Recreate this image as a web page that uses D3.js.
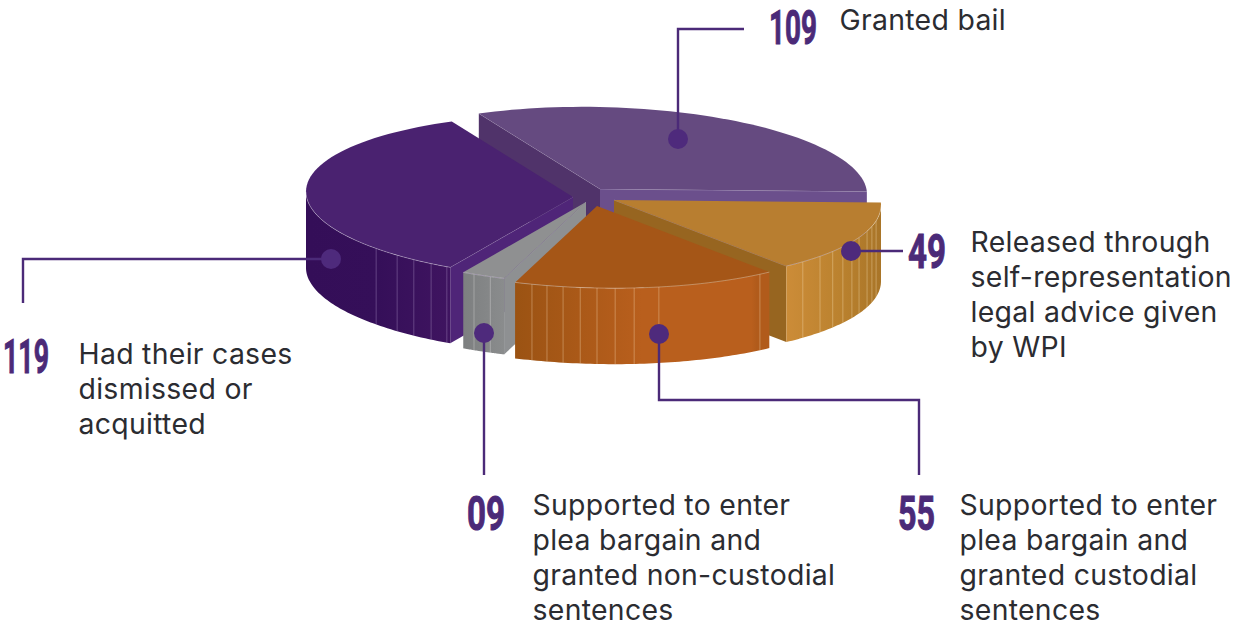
<!DOCTYPE html>
<html>
<head>
<meta charset="utf-8">
<style>
  html, body { margin: 0; padding: 0; background: #fff; }
  svg { display: block; }
  .desc { font-family: Inter, "Noto Sans", sans-serif; font-size: 28.4px; fill: #2b2c31; letter-spacing: 0.3px; }
  .num { font-family: Roboto, sans-serif; font-weight: 700; font-size: 49px; fill: #4b2a78; stroke: #4b2a78; stroke-width: 1px; }
</style>
<script src="https://cdnjs.cloudflare.com/ajax/libs/d3/7.8.5/d3.min.js"></script>
</head>
<body>
<svg id="chart" width="1234" height="625"></svg>
<script>
// Case outcomes, clockwise from the back slice
const categories = ["bail", "selfRep", "custodial", "nonCustodial", "dismissed"];
const values = [109, 49, 55, 9, 119];
const valueLabels = ["109", "49", "55", "09", "119"];
const descriptions = [
  ["Granted bail"],
  ["Released through", "self-representation", "legal advice given", "by WPI"],
  ["Supported to enter", "plea bargain and", "granted custodial", "sentences"],
  ["Supported to enter", "plea bargain and", "granted non-custodial", "sentences"],
  ["Had their cases", "dismissed or", "acquitted"]
];

// Slice apex on the page, one per category (the pie is exploded)
const apexX = [600, 614, 597, 586, 573];
const apexY = [189, 200, 206, 202, 197];

// Fine seams on the outer wall, as rim angles in degrees
const seams = [
  [],
  [135, 129.5, 125, 121, 117, 113.4, 108.6, 105, 101],
  [194.1, 190.8, 187.3, 183.6, 180, 176.1, 172, 166.6, 142.4],
  [204.8, 201],
  [227.5, 221.2, 216.6, 212.1, 208.2]
];

// Colours: top, start face, end face, wall gradient stops
const topColors = ["#654a80", "#b87e30", "#a55617", "#8f9091", "#4a2270"];
const startFace = ["#50336a", null, null, "#8e9092", "#4f2578"];
const endFace = ["#6b4f8c", "#976520", null, null, null];
const wallStops = [
  [[0, "#654a80"], [1, "#654a80"]],
  [[0, "#cc8c38"], [0.55, "#bb822f"], [1, "#a97528"]],
  [[0, "#9b5313"], [0.5, "#b95f1d"], [0.93, "#b95f1d"], [0.95, "#b15b1b"], [1, "#b15b1b"]],
  [[0, "#7d7f80"], [1, "#8a8c8d"]],
  [[0, "#340e58"], [0.5, "#350f59"], [1, "#3f1460"]]
];
const seamColors = ["#fff", "#f3d9ad", "#f0cfa9", "#d8d8d8", "#a58fc0"];

// Leader lines: dot first, then each bend
const leaders = [
  [[678, 139], [678, 29], [744, 29]],
  [[851, 251], [903, 251]],
  [[659, 334], [659, 400], [919, 400], [919, 475]],
  [[484, 333], [484, 475]],
  [[331, 259], [23, 259], [23, 303]]
];
const labelX = [[769, 817], [908, 946], [898, 935], [467, 505], [3, 49]];
const labelBase = [44, 268, 530, 530, 373];
const descX = [839.5, 970.5, 959.5, 532.5, 78.5];
const descBase = [29.5, 251.5, 514.5, 514.5, 363.5];
const lineGap = 35;

const rx = 267, ry = 82, shear = 0.02, depth = 76;
const deg = Math.PI / 180;

const pie = d3.pie().sort(null).startAngle(-27 * deg).endAngle(333 * deg);
const arcs = pie(values);

const svg = d3.select("#chart");
const defs = svg.append("defs");

// Project a rim angle of slice i onto the page; h drops it down the wall
const project = (i, a, h = 0) => [
  apexX[i] + rx * Math.sin(a),
  apexY[i] - ry * Math.cos(a) + shear * rx * Math.sin(a) + h
];
const line = d3.line();
const rim = (i, a0, a1, h = 0) =>
  d3.range(0, 61).map(k => project(i, a0 + (a1 - a0) * k / 60, h));
const base = i => [apexX[i], apexY[i]];
const under = i => [apexX[i], apexY[i] + depth];

// Back-to-front painting order
const order = [0, 4, 1, 3, 2];

order.forEach(i => {
  const { startAngle: a0, endAngle: a1 } = arcs[i];
  const g = svg.append("g").attr("class", "slice " + categories[i]);

  const face = (a, fill) => {
    const p = project(i, a), q = project(i, a, depth);
    g.append("path")
      .attr("d", line([base(i), p, q, under(i)]) + "Z")
      .attr("fill", fill);
    g.append("path").attr("d", line([base(i), p]))
      .attr("stroke", "#fff").attr("stroke-opacity", 0.3).attr("stroke-width", 0.7).attr("fill", "none");
  };
  if (startFace[i]) face(a0, startFace[i]);
  if (endFace[i]) face(a1, endFace[i]);

  // Outer wall: only the stretch of rim that faces the viewer
  const w0 = Math.max(a0, 90 * deg), w1 = Math.min(a1, 270 * deg);
  if (w1 > w0) {
    const id = "wall-" + categories[i];
    const xs = [project(i, w0)[0], project(i, w1)[0]];
    const grad = defs.append("linearGradient").attr("id", id)
      .attr("gradientUnits", "userSpaceOnUse")
      .attr("x1", d3.min(xs)).attr("x2", d3.max(xs)).attr("y1", 0).attr("y2", 0);
    wallStops[i].forEach(([o, c]) => {
      grad.append("stop").attr("offset", o).attr("stop-color", c);
    });
    g.append("path")
      .attr("d", line(rim(i, w0, w1).concat(rim(i, w1, w0, depth))) + "Z")
      .attr("fill", `url(#${id})`);
    seams[i].forEach(s => {
      const a = s * deg;
      g.append("path").attr("d", line([project(i, a), project(i, a, depth)]))
        .attr("stroke", seamColors[i]).attr("stroke-opacity", 0.45)
        .attr("stroke-width", 0.9).attr("fill", "none");
    });
  }

  // Top surface with a pale edge where it meets the wall
  g.append("path")
    .attr("d", line([base(i)].concat(rim(i, a0, a1))) + "Z")
    .attr("fill", topColors[i]);
  if (w1 > w0) {
    g.append("path").attr("d", line(rim(i, w0, w1)))
      .attr("stroke", "#fff").attr("stroke-opacity", 0.4).attr("stroke-width", 0.8).attr("fill", "none");
  }
});

// Leaders and their dots
const leaderG = svg.append("g");
leaders.forEach(pts => {
  leaderG.append("path").attr("d", line(pts))
    .attr("fill", "none").attr("stroke", "#4b2a78").attr("stroke-width", 2.4);
  leaderG.append("circle").attr("cx", pts[0][0]).attr("cy", pts[0][1]).attr("r", 10)
    .attr("fill", "#4e2a7c");
});

// Numbers, squeezed horizontally into a condensed look, and descriptions
categories.forEach((c, i) => {
  const n = svg.append("text").attr("class", "num").text(valueLabels[i]);
  const natural = n.node().getComputedTextLength();
  const sx = (labelX[i][1] - labelX[i][0]) / natural;
  n.attr("transform", `translate(${labelX[i][0]},${labelBase[i]}) scale(${sx},1)`);
  const t = svg.append("text").attr("class", "desc");
  descriptions[i].forEach((s, k) => {
    t.append("tspan").attr("x", descX[i]).attr("y", descBase[i] + k * lineGap).text(s);
  });
});
</script>
</body>
</html>
